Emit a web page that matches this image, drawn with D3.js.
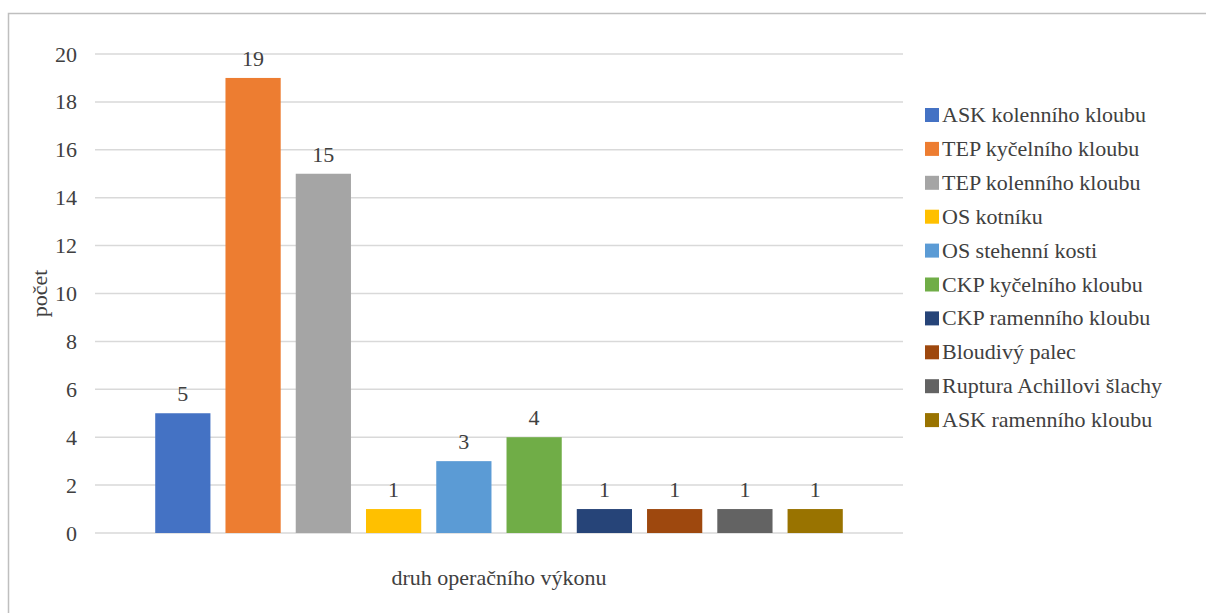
<!DOCTYPE html>
<html><head><meta charset="utf-8">
<script src="https://cdn.jsdelivr.net/npm/d3@7"></script>
<style>body{margin:0;background:#fff}svg{display:block}
svg text{font-family:"Liberation Serif" !important;}</style>
</head><body>
<svg id="c" width="1206" height="613" font-family="Liberation Serif"></svg>
<script>
const category = ["druh operačního výkonu"];
const series = ["ASK kolenního kloubu","TEP kyčelního kloubu","TEP kolenního kloubu","OS kotníku","OS stehenní kosti","CKP kyčelního kloubu","CKP ramenního kloubu","Bloudivý palec","Ruptura Achillovi šlachy","ASK ramenního kloubu"];
const values = [5,19,15,1,3,4,1,1,1,1];
const colors = ["#4472C4","#ED7D31","#A5A5A5","#FFC000","#5B9BD5","#70AD47","#264478","#9E480E","#636363","#997300"];
const yTicks = [0,2,4,6,8,10,12,14,16,18,20];

const svg = d3.select("#c");
const txt = "#404040";
const FS = 22;
// outer border
svg.append("rect").attr("x",8.5).attr("y",13.5).attr("width",1220).attr("height",620)
  .attr("fill","none").attr("stroke","#bfbfbf").attr("stroke-width",1.5);

const L=95, R=903, T=54, B=533;
const y = d3.scaleLinear().domain([0,20]).range([B,T]);
const x0 = d3.scaleBand().domain(category).range([L,R]).paddingInner(0).paddingOuter(0.075);
const x1 = d3.scaleBand().domain(series).range([0,x0.bandwidth()]).paddingInner(0.214).paddingOuter(0.107);

// gridlines
svg.append("g").selectAll("line").data(yTicks).join("line")
  .attr("x1",L).attr("x2",R).attr("y1",d=>y(d)).attr("y2",d=>y(d))
  .attr("stroke","#d9d9d9").attr("stroke-width",1.5);

// y axis labels
const ya = svg.append("g").attr("transform",`translate(${L-18},0)`)
  .call(d3.axisLeft(y).tickValues(yTicks).tickSize(0).tickPadding(0));
ya.select(".domain").remove();
ya.attr("font-family",null).attr("font-size",FS);
ya.selectAll("text").attr("fill",txt);

// bars
const g = svg.append("g").attr("transform",`translate(${x0(category[0])},0)`);
g.selectAll("rect").data(values).join("rect")
  .attr("x",(d,i)=>x1(series[i])).attr("width",x1.bandwidth())
  .attr("y",d=>y(d)).attr("height",d=>B-y(d)).attr("fill",(d,i)=>colors[i]);
g.selectAll("text").data(values).join("text")
  .attr("x",(d,i)=>x1(series[i])+x1.bandwidth()/2).attr("y",d=>y(d)-12)
  .attr("text-anchor","middle").attr("font-size",FS).attr("fill",txt)
  .text(d=>d);

// axis titles
svg.append("text").attr("transform",`translate(47,${(T+B)/2}) rotate(-90)`)
  .attr("text-anchor","middle").attr("font-size",FS).attr("fill",txt).text("počet");
svg.append("text").attr("x",(L+R)/2).attr("y",585).attr("text-anchor","middle")
  .attr("font-size",FS).attr("fill",txt).text(category[0]);

// legend
const lg = svg.append("g").attr("transform","translate(925,115)");
const it = lg.selectAll("g").data(series).join("g").attr("transform",(d,i)=>`translate(0,${i*33.9})`);
it.append("rect").attr("x",0).attr("y",-7).attr("width",14).attr("height",14).attr("fill",(d,i)=>colors[i]);
it.append("text").attr("x",17).attr("y",7).attr("font-size",FS).attr("fill",txt).text(d=>d);
</script>
</body></html>
